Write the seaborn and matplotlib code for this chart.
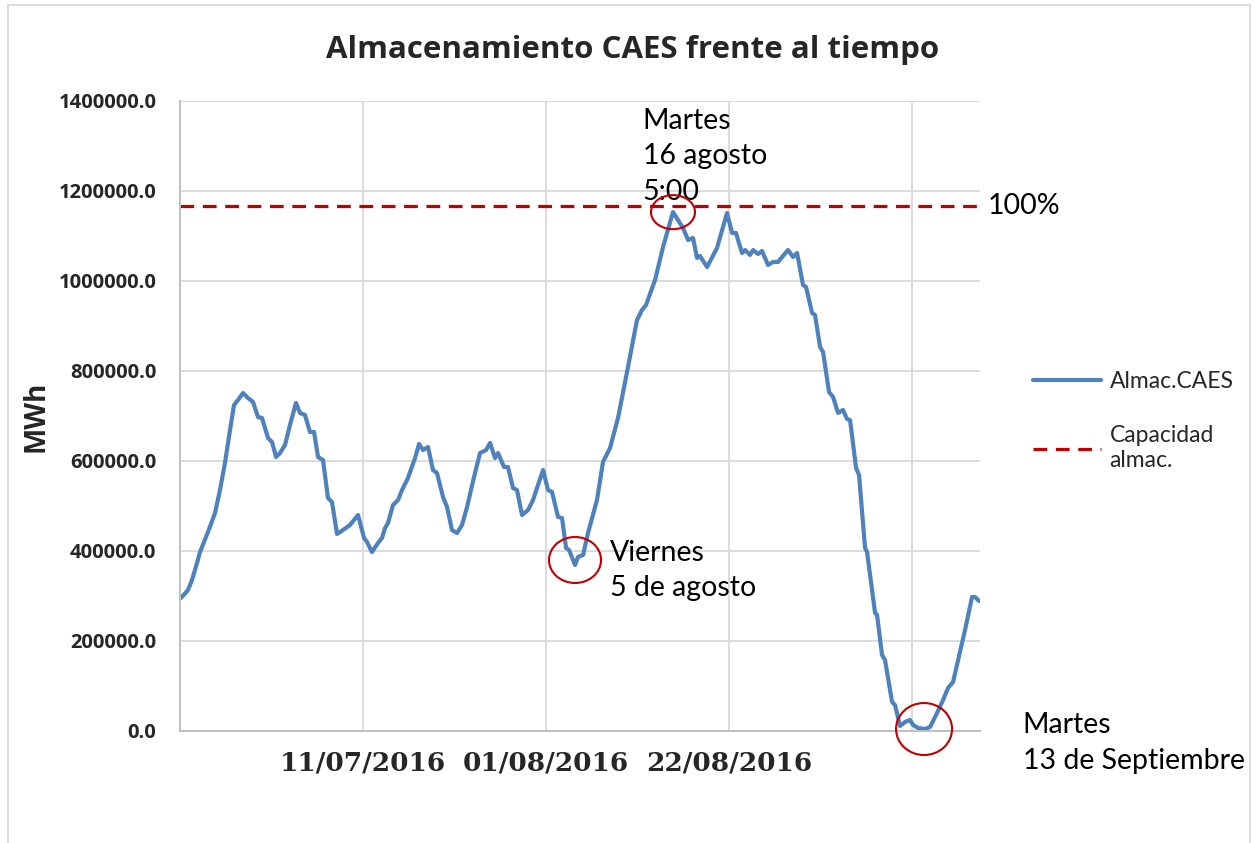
"""Almacenamiento CAES frente al tiempo - recreación con seaborn."""
import pandas as pd
import matplotlib; matplotlib.use("Agg")
import matplotlib.pyplot as plt
import matplotlib.dates as mdates
from matplotlib.patches import Ellipse, Rectangle
import seaborn as sns

# datos (días desde 20/06/2016, MWh)
INICIO = pd.Timestamp("2016-06-20")
dias = [0.11, 0.92, 1.38, 1.95, 2.30, 3.21, 4.02, 4.59, 5.16, 5.74, 6.20, 6.66, 7.23, 7.80, 8.38,
        8.95, 9.41, 10.10, 10.56, 11.02, 11.48, 12.05, 12.62, 13.31, 13.77, 14.34, 14.92, 15.38,
        15.84, 16.41, 16.98, 17.44, 18.02, 18.71, 19.51, 20.43, 21.12, 21.46, 22.03, 22.72, 23.18,
        23.53, 23.87, 24.44, 25.02, 25.48, 26.16, 26.97, 27.43, 27.89, 28.46, 29.03, 29.49, 30.18,
        30.64, 31.21, 31.79, 32.36, 32.94, 33.74, 34.43, 35.12, 35.58, 36.15, 36.49, 37.18, 37.64,
        38.21, 38.67, 39.25, 39.94, 40.51, 41.66, 42.23, 42.69, 43.38, 43.84, 44.30, 44.64, 45.33,
        45.67, 46.25, 46.82, 47.85, 48.54, 49.35, 50.26, 51.41, 52.44, 53.02, 53.48, 54.51, 55.43,
        56.57, 57.72, 58.30, 58.87, 59.33, 59.67, 60.48, 61.62, 62.77, 63.35, 63.80, 64.49, 64.84,
        65.41, 65.76, 66.33, 66.79, 67.48, 68.05, 68.62, 69.77, 70.35, 70.81, 71.49, 71.84, 72.53,
        72.87, 73.45, 73.79, 74.48, 74.94, 75.51, 76.08, 76.54, 76.89, 77.58, 77.92, 78.61, 78.84,
        79.76, 79.99, 80.56, 80.90, 81.71, 82.05, 82.62, 83.20, 83.77, 84.12, 84.69, 85.49, 86.07,
        86.87, 87.56, 88.13, 88.71, 89.74, 90.08, 90.89, 91.23, 91.69]
almac_mwh = [295600, 313300, 335600, 373300, 397800, 442200, 484400, 535600, 595600, 668900,
             724400, 735600, 751100, 740000, 731100, 697800, 695600, 651100, 642200, 608900,
             617800, 635600, 680000, 728900, 706700, 702200, 664400, 664400, 608900, 602200,
             517800, 508900, 437800, 446700, 457800, 480000, 428900, 420000, 397800, 417800,
             428900, 451100, 462200, 502200, 513300, 535600, 562200, 606700, 637800, 624400,
             631100, 580000, 573300, 520000, 497800, 446700, 440000, 457800, 497800, 564400,
             617800, 624400, 640000, 606700, 617800, 586700, 586700, 540000, 535600, 480000,
             491100, 513300, 580000, 535600, 531100, 475600, 473300, 406700, 402200, 368900,
             386700, 391100, 440000, 513300, 597800, 628900, 695600, 808900, 913300, 935600,
             946700, 1002200, 1075600, 1153300, 1117800, 1091100, 1095600, 1051100, 1055600,
             1031100, 1073300, 1151100, 1106700, 1106700, 1062200, 1068900, 1057800, 1068900,
             1060000, 1066700, 1035600, 1042200, 1042200, 1068900, 1053300, 1062200, 991100,
             986700, 928900, 924400, 853300, 842200, 753300, 742200, 706700, 713300, 693300,
             691100, 584400, 568900, 406700, 397800, 262200, 257800, 168900, 157800, 64400,
             57800, 11100, 20000, 24400, 13300, 6700, 4400, 8900, 40000, 68900, 95600, 108900,
             195600, 224400, 297800, 297800, 288900]
capacidad_mwh = 1167000

fechas_grid = ["2016-07-11", "2016-08-01", "2016-08-22", "2016-09-12"]
etiquetas_x = ["11/07/2016", "01/08/2016", "22/08/2016", ""]
ticks_y = [0, 200000, 400000, 600000, 800000, 1000000, 1200000, 1400000]

AZUL = "#4F81BD"; ROJO = "#C00000"; GRIS = "#D9D9D9"
NEGRITA = ["Open Sans", "DejaVu Sans"]

sns.set_style("white")
plt.rcParams["font.family"] = ["Lato", "DejaVu Sans"]

df = pd.DataFrame({"fecha": INICIO + pd.to_timedelta(dias, unit="D"), "almac": almac_mwh})

fig = plt.figure(figsize=(12.55, 8.43), dpi=100)
ax = fig.add_axes([180 / 1255, 1 - 731 / 843, 800 / 1255, 630 / 843])

sns.lineplot(data=df, x="fecha", y="almac", ax=ax, color=AZUL, lw=3.0, label="Almac.CAES")
ax.axhline(capacidad_mwh, color=ROJO, lw=2.3, dashes=(4.3, 2.7), label="Capacidad\nalmac.")

def dnum(d):
    return mdates.date2num(INICIO + pd.Timedelta(days=d))

ax.set_xlim(dnum(0), dnum(91.8))
ax.set_ylim(0, 1400000)
ax.set_xticks([mdates.date2num(pd.Timestamp(f)) for f in fechas_grid])
ax.set_xticklabels(etiquetas_x, fontfamily="DejaVu Serif", fontweight="bold", fontsize=19)
ax.set_yticks(ticks_y)
ax.set_yticklabels([f"{v:.1f}" for v in ticks_y], fontfamily=NEGRITA, fontweight="bold", fontsize=14.5)
ax.tick_params(axis="both", length=0)
ax.tick_params(axis="x", pad=14)
ax.tick_params(axis="y", pad=17)
ax.grid(True, color=GRIS, lw=1.3)
for s in ["top", "right"]:
    ax.spines[s].set_visible(False)
for s in ["left", "bottom"]:
    ax.spines[s].set_color("#BFBFBF"); ax.spines[s].set_linewidth(1.4)
ax.set_xlabel("")
ax.set_ylabel("MWh", fontsize=20, fontweight="bold", fontfamily=NEGRITA)
ax.yaxis.set_label_coords(-0.162, 0.5)

# anotaciones
txt = dict(fontsize=20.5, color="black", clip_on=False, linespacing=1.45)
ax.text(dnum(53.1), 1385000, "Martes\n16 agosto\n5:00", va="top", ha="left", **txt)
ax.text(dnum(92.7), capacidad_mwh, "100%", va="center", ha="left", **txt)
ax.text(dnum(49.35), 357000, "Viernes\n5 de agosto", va="center", ha="left", **txt)
ax.text(dnum(96.7), -27000, "Martes\n13 de Septiembre", va="center", ha="left", **txt)
for d, v, w, h in [(56.57, 1153000, 5.05, 75600), (45.33, 380000, 5.97, 102200), (85.38, 4400, 6.43, 115600)]:
    ax.add_patch(Ellipse((dnum(d), v), w, h, fill=False, ec=ROJO, lw=1.5, clip_on=False, zorder=5))

fig.text(0.504, 1 - 50 / 843, "Almacenamiento CAES frente al tiempo", ha="center", va="center",
         fontsize=22.5, fontweight="bold", fontfamily=NEGRITA)

ax.legend_.remove()
h, l = ax.get_legend_handles_labels()
fig.legend(h, l, loc="center left", bbox_to_anchor=(1012 / 1255, 1 - 421 / 843), frameon=False,
           fontsize=16.5, handlelength=2.97, handletextpad=0.39, labelspacing=1.45)

fig.patches.append(Rectangle((8 / 1255, -0.02), 1242 / 1255, 1 - 5 / 843 + 0.02, transform=fig.transFigure,
                             fill=False, ec=GRIS, lw=1.3))

plt.savefig("out.png", dpi=100)
plt.close()
